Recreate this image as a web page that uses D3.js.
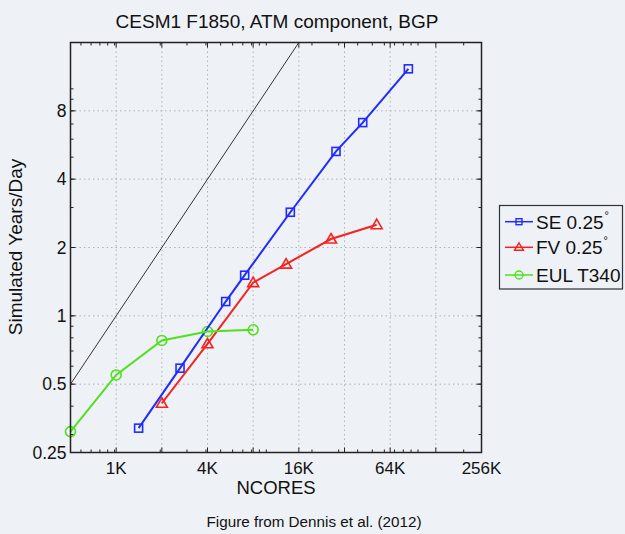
<!DOCTYPE html>
<html><head><meta charset="utf-8">
<script src="https://cdn.jsdelivr.net/npm/d3@7"></script>
<style>
html,body{margin:0;padding:0;background:#eef1f6;}
svg{display:block;}
text{font-family:"Liberation Sans",Arial,Helvetica,sans-serif;fill:#111;}
</style></head>
<body>
<svg id="c" width="625" height="534"></svg>
<script>
// ---- data ----
const seCores  = [1440, 2700, 5400, 7200, 14400, 28800, 43200, 86400];
const seYPD    = [0.32, 0.588, 1.156, 1.51, 2.86, 5.3, 7.1, 12.25];
const fvCores  = [2048, 4096, 8192, 13500, 26700, 53400];
const fvYPD    = [0.412, 0.753, 1.40, 1.69, 2.18, 2.52];
const eulCores = [512, 1024, 2048, 4096, 8192];
const eulYPD   = [0.309, 0.549, 0.779, 0.853, 0.868];
const idealCores = [512, 16384];
const idealYPD   = [0.5, 16];
const xTickVals   = [1024, 4096, 16384, 65536, 262144];
const xTickLabels = ["1K", "4K", "16K", "64K", "256K"];
const xGridVals   = [1024, 2048, 4096, 8192, 16384, 32768, 65536, 131072];
const yTickVals   = [0.25, 0.5, 1, 2, 4, 8];
const yTickLabels = ["0.25", "0.5", "1", "2", "4", "8"];
const yGridVals   = [0.5, 1, 2, 4, 8];
const seriesNames = ["SE 0.25", "FV 0.25", "EUL T340"];

const L = 70.5, R = 481.5, T = 42.5, B = 452.5;
const svg = d3.select("#c");
const x = d3.scaleLog().base(2).domain([512, 262144]).range([L, R]);
const y = d3.scaleLog().base(2).domain([0.25, 16]).range([B, T]);

// grid
const g = svg.append("g");
g.selectAll(".gx").data(xGridVals).join("line")
  .attr("x1", d => x(d)).attr("x2", d => x(d)).attr("y1", T).attr("y2", B)
  .attr("stroke", "#aeb1b6").attr("stroke-width", 1).attr("stroke-dasharray", "1.5,3");
g.selectAll(".gy").data(yGridVals).join("line")
  .attr("y1", d => y(d)).attr("y2", d => y(d)).attr("x1", L).attr("x2", R)
  .attr("stroke", "#aeb1b6").attr("stroke-width", 1).attr("stroke-dasharray", "1.5,3");

// minor ticks (decimal)
const xMinor = [];
[100, 1000, 10000, 100000].forEach(p => { for (let k = 1; k <= 9; k++) { const v = k * p; if (v > 512 && v < 262144) xMinor.push(v); } });
const yMinor = [];
[0.1, 1, 10].forEach(p => { for (let k = 1; k <= 9; k++) { const v = +(k * p).toFixed(3); if (v > 0.25 && v < 16) yMinor.push(v); } });
const ax = svg.append("g").attr("stroke", "#222").attr("stroke-width", 1);
xMinor.forEach(v => {
  ax.append("line").attr("x1", x(v)).attr("x2", x(v)).attr("y1", B).attr("y2", B - 3);
  ax.append("line").attr("x1", x(v)).attr("x2", x(v)).attr("y1", T).attr("y2", T + 3);
});
yMinor.forEach(v => {
  ax.append("line").attr("y1", y(v)).attr("y2", y(v)).attr("x1", L).attr("x2", L + 3);
  ax.append("line").attr("y1", y(v)).attr("y2", y(v)).attr("x1", R).attr("x2", R - 3);
});
xGridVals.concat([262144]).forEach(v => {
  ax.append("line").attr("x1", x(v)).attr("x2", x(v)).attr("y1", B).attr("y2", B - 5);
  ax.append("line").attr("x1", x(v)).attr("x2", x(v)).attr("y1", T).attr("y2", T + 5);
});
yGridVals.forEach(v => {
  ax.append("line").attr("y1", y(v)).attr("y2", y(v)).attr("x1", L).attr("x2", L + 5);
  ax.append("line").attr("y1", y(v)).attr("y2", y(v)).attr("x1", R).attr("x2", R - 5);
});

// clip
svg.append("clipPath").attr("id", "clip").append("rect").attr("x", L).attr("y", T).attr("width", R - L).attr("height", B - T);

const line = d3.line().x(d => x(d[0])).y(d => y(d[1]));
const plot = svg.append("g").attr("clip-path", "url(#clip)");
plot.append("path").datum(idealCores.map((c, i) => [c, idealYPD[i]]))
  .attr("d", line).attr("fill", "none").attr("stroke", "#333").attr("stroke-width", 1);

const series = [
  {c: seCores, v: seYPD, col: "#1f2bff", m: "square"},
  {c: fvCores, v: fvYPD, col: "#f5231f", m: "tri"},
  {c: eulCores, v: eulYPD, col: "#4fe21c", m: "circle"}
];
function marker(sel, m, cx, cy, col) {
  if (m === "square") sel.append("rect").attr("x", cx - 4).attr("y", cy - 4).attr("width", 8).attr("height", 8)
      .attr("fill", "none").attr("stroke", col).attr("stroke-width", 1.6);
  else if (m === "tri") sel.append("path").attr("d", `M${cx},${cy - 5.5}L${cx + 5.5},${cy + 4}L${cx - 5.5},${cy + 4}Z`)
      .attr("fill", "none").attr("stroke", col).attr("stroke-width", 1.6);
  else sel.append("circle").attr("cx", cx).attr("cy", cy).attr("r", 5)
      .attr("fill", "none").attr("stroke", col).attr("stroke-width", 1.6);
}
const mk = svg.append("g");
series.forEach(s => {
  const pts = s.c.map((c, i) => [c, s.v[i]]);
  svg.append("path").datum(pts).attr("d", line).attr("fill", "none").attr("stroke", s.col).attr("stroke-width", 2);
  pts.forEach(p => marker(mk, s.m, x(p[0]), y(p[1]), s.col));
});

// frame
svg.append("rect").attr("x", L).attr("y", T).attr("width", R - L).attr("height", B - T)
  .attr("fill", "none").attr("stroke", "#222").attr("stroke-width", 1.5);

// tick labels
svg.selectAll(".xl").data(xTickVals).join("text")
  .attr("x", d => x(d)).attr("y", 474).attr("text-anchor", "middle").attr("font-size", 17)
  .text((d, i) => xTickLabels[i]);
svg.selectAll(".yl").data(yTickVals).join("text")
  .attr("x", 66.5).attr("y", d => y(d) + 6.2).attr("text-anchor", "end").attr("font-size", 17.5)
  .text((d, i) => yTickLabels[i]);

// titles
svg.append("text").attr("x", 277).attr("y", 27.7).attr("text-anchor", "middle").attr("font-size", 19)
  .text("CESM1 F1850, ATM component, BGP");
svg.append("text").attr("x", 276).attr("y", 494).attr("text-anchor", "middle").attr("font-size", 18.5)
  .text("NCORES");
svg.append("text").attr("transform", "translate(22,247) rotate(-90)").attr("text-anchor", "middle").attr("font-size", 19)
  .text("Simulated Years/Day");

// legend
const lg = svg.append("g");
lg.append("rect").attr("x", 499.5).attr("y", 205.5).attr("width", 123).attr("height", 83.5)
  .attr("fill", "#eef1f6").attr("stroke", "#333").attr("stroke-width", 1.2);
const lgY = [221.7, 247.3, 275];
series.forEach((s, i) => {
  lg.append("line").attr("x1", 505).attr("x2", 533).attr("y1", lgY[i]).attr("y2", lgY[i])
    .attr("stroke", s.col).attr("stroke-width", 1.5);
  const mg = lg.append("g");
  if (s.m === "square") mg.append("rect").attr("x", 516).attr("y", lgY[i] - 3).attr("width", 6).attr("height", 6)
      .attr("fill", "none").attr("stroke", s.col).attr("stroke-width", 1.4);
  else if (s.m === "tri") mg.append("path").attr("d", `M519,${lgY[i] - 4.5}L523.5,${lgY[i] + 3}L514.5,${lgY[i] + 3}Z`)
      .attr("fill", "none").attr("stroke", s.col).attr("stroke-width", 1.4);
  else mg.append("circle").attr("cx", 519).attr("cy", lgY[i]).attr("r", 4)
      .attr("fill", "none").attr("stroke", s.col).attr("stroke-width", 1.4);
  const t = lg.append("text").attr("x", 536).attr("y", lgY[i] + 7).attr("font-size", 19).text(seriesNames[i]);
  if (i < 2) t.append("tspan").attr("dy", -10).attr("dx", 1).attr("font-size", 11).text("°");
});

// caption
svg.append("text").attr("x", 314).attr("y", 527).attr("text-anchor", "middle")
  .attr("font-family", "DejaVu Sans").attr("font-size", 14).attr("textLength", 215).attr("lengthAdjust", "spacingAndGlyphs")
  .text("Figure from Dennis et al. (2012)");
</script>
</body></html>
